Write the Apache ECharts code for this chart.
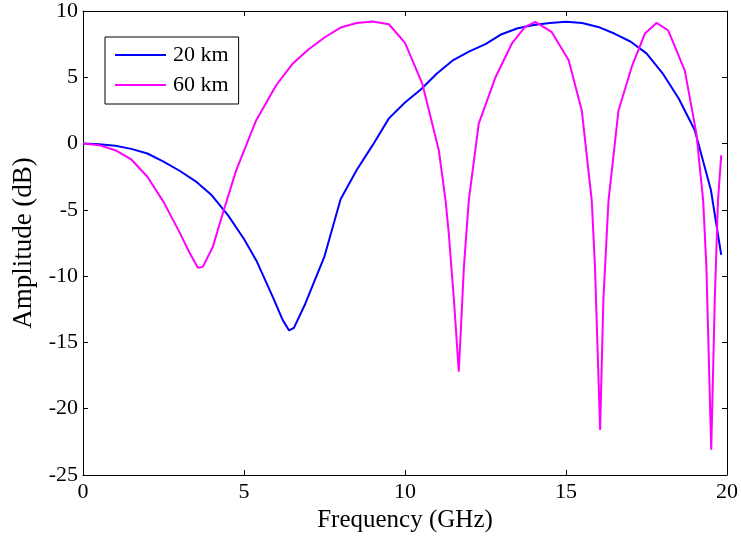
<!DOCTYPE html>
<html>
<head>
<meta charset="utf-8">
<script src="https://cdn.jsdelivr.net/npm/echarts@6/dist/echarts.min.js"></script>
<style>html,body{margin:0;padding:0;background:#fff;}#c{width:741px;height:543px;}</style>
</head>
<body>
<div id="c"></div>
<script>
var seriesNames = ['20 km', '60 km'];
var xTicks = [0, 5, 10, 15, 20];
var yTicks = [-25, -20, -15, -10, -5, 0, 5, 10];

var freq20 = [0, 0.5, 1.0, 1.5, 2.0, 2.5, 3.0, 3.5, 4.0, 4.5, 5.0, 5.4, 5.9, 6.2, 6.4, 6.55, 6.9, 7.5, 8.0, 8.5, 9.0, 9.5, 10.0, 10.5, 11.0, 11.5, 12.0, 12.5, 13.0, 13.5, 14.0, 14.5, 15.0, 15.5, 16.0, 16.5, 17.0, 17.5, 18.0, 18.5, 19.0, 19.5, 19.82];
var amp20 = [0, -0.06, -0.17, -0.4, -0.75, -1.36, -2.05, -2.85, -3.9, -5.4, -7.2, -8.9, -11.6, -13.3, -14.1, -13.9, -12.1, -8.5, -4.2, -2.0, -0.1, 1.9, 3.1, 4.1, 5.3, 6.3, 6.95, 7.5, 8.25, 8.7, 8.95, 9.1, 9.18, 9.1, 8.8, 8.3, 7.7, 6.8, 5.3, 3.4, 1.0, -3.5, -8.4];

var freq60 = [0, 0.5, 1.0, 1.5, 2.0, 2.5, 3.0, 3.3, 3.57, 3.72, 4.03, 4.34, 4.76, 5.38, 6.0, 6.5, 7.0, 7.5, 8.0, 8.5, 9.0, 9.5, 10.0, 10.54, 11.05, 11.26, 11.36, 11.52, 11.67, 11.83, 11.98, 12.29, 12.81, 13.32, 13.73, 14.05, 14.56, 15.08, 15.49, 15.8, 15.9, 16.06, 16.16, 16.32, 16.63, 17.04, 17.45, 17.81, 18.17, 18.69, 19.05, 19.26, 19.36, 19.51, 19.62, 19.72, 19.82];
var amp60 = [0, -0.12, -0.5, -1.2, -2.5, -4.4, -6.7, -8.2, -9.36, -9.3, -7.8, -5.28, -2.0, 1.76, 4.4, 6.0, 7.1, 8.0, 8.75, 9.1, 9.2, 9.0, 7.6, 4.5, -0.5, -4.3, -6.8, -11.8, -17.2, -9.3, -4.3, 1.5, 5.0, 7.55, 8.8, 9.18, 8.4, 6.3, 2.5, -4.3, -9.3, -21.6, -11.8, -4.3, 2.5, 5.78, 8.3, 9.1, 8.55, 5.5, 0.75, -4.3, -9.3, -23.1, -11.8, -4.3, -0.88];

function pairs(xs, ys) { return xs.map(function (x, i) { return [x, ys[i]]; }); }

var FONT = '"Liberation Serif", "Times New Roman", serif';
var chart = echarts.init(document.getElementById('c'));
var axisCommon = {
  type: 'value',
  axisLine: { show: true, onZero: false, lineStyle: { color: '#000', width: 1 } },
  axisTick: { show: true, inside: true, length: 5, lineStyle: { color: '#000' } },
  splitLine: { show: false }
};
chart.setOption({
  animation: false,
  backgroundColor: '#fff',
  grid: { left: 83, right: 12, top: 11, bottom: 68 },
  legend: {
    data: seriesNames,
    orient: 'vertical',
    left: 105, top: 37,
    padding: [7, 10, 8, 10],
    itemGap: 8,
    icon: 'rect',
    itemWidth: 51, itemHeight: 2,
    borderColor: '#000', borderWidth: 1,
    backgroundColor: '#fff',
    textStyle: { fontFamily: FONT, fontSize: 22, color: '#000', lineHeight: 22, padding: [0, 0, 0, 2] }
  },
  xAxis: [
    Object.assign({}, axisCommon, {
      min: xTicks[0], max: xTicks[xTicks.length - 1], interval: 5,
      position: 'bottom',
      name: 'Frequency (GHz)', nameLocation: 'middle', nameGap: 33,
      nameTextStyle: { fontFamily: FONT, fontSize: 25, color: '#000' },
      axisLabel: { fontFamily: FONT, fontSize: 22, color: '#000', margin: 6 }
    }),
    Object.assign({}, axisCommon, {
      min: xTicks[0], max: xTicks[xTicks.length - 1], interval: 5,
      position: 'top', axisLabel: { show: false }
    })
  ],
  yAxis: [
    Object.assign({}, axisCommon, {
      min: yTicks[0], max: yTicks[yTicks.length - 1], interval: 5,
      position: 'left',
      name: 'Amplitude (dB)', nameLocation: 'middle', nameGap: 44,
      nameTextStyle: { fontFamily: FONT, fontSize: 27, color: '#000' },
      axisLabel: { fontFamily: FONT, fontSize: 22, color: '#000', margin: 5 }
    }),
    Object.assign({}, axisCommon, {
      min: yTicks[0], max: yTicks[yTicks.length - 1], interval: 5,
      position: 'right', axisLabel: { show: false }
    })
  ],
  series: [
    {
      name: seriesNames[0], type: 'line', data: pairs(freq20, amp20),
      symbol: 'none', showSymbol: false,
      lineStyle: { color: '#0000ff', width: 2 }, itemStyle: { color: '#0000ff' }
    },
    {
      name: seriesNames[1], type: 'line', data: pairs(freq60, amp60),
      symbol: 'none', showSymbol: false,
      lineStyle: { color: '#ff00ff', width: 2 }, itemStyle: { color: '#ff00ff' }
    }
  ]
});
</script>
</body>
</html>
